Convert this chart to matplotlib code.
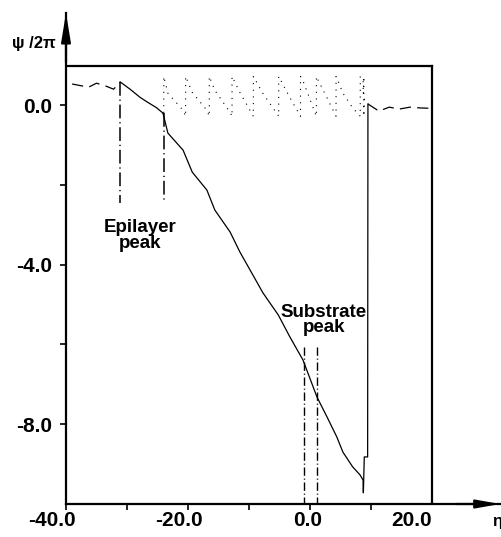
import numpy as np
import matplotlib
matplotlib.use("Agg")
import matplotlib.pyplot as plt

plt.rcParams['font.family'] = ['Liberation Sans', 'DejaVu Sans']
plt.rcParams['font.weight'] = 'bold'

# dashed phase outside the layer (left / right)
left_x = [-39.0, -36.3, -35.0, -33.5, -32.2, -31.1]
left_y = [0.53, 0.45, 0.55, 0.48, 0.40, 0.58]
right_x = [9.5, 9.8, 11.3, 13.0, 14.6, 16.4, 18.0, 20.0]
right_y = [0.03, 0.0, -0.15, -0.05, -0.10, -0.05, -0.07, -0.08]

# unwrapped phase psi/2pi (solid)
phase_x = [-31.1, -29.5, -27.9, -26.7, -25.2, -24.1, -23.3, -20.8, -19.3,
           -16.9, -15.6, -13.1, -11.5, -9.8, -7.7, -5.2, -3.3, -1.15, 1.15,
           2.8, 4.4, 5.4, 7.0, 8.2, 8.7, 8.75, 8.9, 9.45, 9.5]
phase_y = [0.58, 0.40, 0.20, 0.08, -0.06, -0.20, -0.70, -1.13, -1.68,
           -2.13, -2.63, -3.18, -3.68, -4.14, -4.71, -5.26, -5.81, -6.39, -7.32,
           -7.82, -8.32, -8.70, -9.07, -9.27, -9.40, -9.72, -8.82, -8.82, 0.03]

epi_peaks = [-31.1, -23.9]
sub_peaks = [-1.0, 1.1]

xticks = [-40, -20, 0, 20]
xlabels = ['-40.0', '-20.0', '0.0', '20.0']
yticks = [0, -4, -8]
ylabels = ['0.0', '-4.0', '-8.0']


def wrapped(x, y, lo, x_start, x_end):
    # same curve folded back into [lo, lo+1), vertical jumps kept
    xs, ys = [], []
    pts = [(a, b) for a, b in zip(x, y) if x_start <= a <= x_end]
    w = lambda v: lo + (v - lo) % 1.0
    for (x0, y0), (x1, y1) in zip(pts[:-1], pts[1:]):
        xs.append(x0)
        ys.append(w(y0))
        if y1 == y0:
            continue
        ks = np.arange(np.ceil(min(y0, y1) - lo), np.floor(max(y0, y1) - lo) + 1)
        bounds = lo + ks
        bounds = bounds[(bounds > min(y0, y1)) & (bounds < max(y0, y1))]
        bounds = sorted(bounds, reverse=y1 < y0)
        for b in bounds:
            xc = x0 + (b - y0) / (y1 - y0) * (x1 - x0)
            if y1 < y0:
                xs += [xc, xc]
                ys += [lo, lo + 1]
            else:
                xs += [xc, xc]
                ys += [lo + 1, lo]
    xs.append(pts[-1][0])
    ys.append(w(pts[-1][1]))
    return xs, ys


fig = plt.figure(figsize=(5.01, 5.37), dpi=100)
ax = fig.add_axes([66 / 501, 33 / 537, 434 / 501, 491 / 537])
ax.set_xlim(-40, 31.15)
ax.set_ylim(-10, 2.31)

for s in ['top', 'right']:
    ax.spines[s].set_visible(False)
for s in ['left', 'bottom']:
    ax.spines[s].set_linewidth(1.6)

# plot box
ax.plot([-40, 20], [0.97, 0.97], color='k', lw=1.6)
ax.plot([20, 20], [-10, 0.97], color='k', lw=1.6)

ax.plot(left_x, left_y, color='k', lw=0.9, linestyle=(0, (9, 5)))
ax.plot(right_x, right_y, color='k', lw=0.9, linestyle=(0, (9, 5)))
ax.plot(phase_x, phase_y, color='k', lw=0.9)

wx, wy = wrapped(phase_x, phase_y, -0.28, -24.1, 9.0)
ax.plot(wx, wy, color='k', lw=0.8, linestyle=(0, (1.0, 5.0)))

# peak markers
ax.plot([epi_peaks[0]] * 2, [0.58, -2.45], color='k', lw=1.1, linestyle=(0, (9, 2.5, 0.8, 2.5)))
ax.plot([epi_peaks[1]] * 2, [-0.2, -2.45], color='k', lw=1.1, linestyle=(0, (9, 2.5, 0.8, 2.5)))
for p in sub_peaks:
    ax.plot([p, p], [-6.07, -10], color='k', lw=1.0, linestyle=(0, (6, 2, 0.8, 2)))

ax.text(-27.9, -3.27, 'Epilayer\npeak', ha='center', va='center', fontsize=13.5,
        linespacing=0.9)
ax.text(2.3, -5.39, 'Substrate\npeak', ha='center', va='center', fontsize=13.5,
        linespacing=0.85)

# ticks
ax.set_xticks(range(-40, 20, 10))
ax.set_xticklabels([])
ax.tick_params(axis='x', direction='out', length=4, width=1.2)
ax.set_yticks(yticks)
ax.set_yticklabels(ylabels, fontsize=15)
ax.set_yticks([-2, -6], minor=True)
ax.tick_params(axis='y', which='both', direction='out', length=4, width=1.2, pad=6)

shifts = [-10, -6.5, -1.5, -15]
for v, lab, dx in zip(xticks, xlabels, shifts):
    ax.annotate(lab, xy=(v, -10), xytext=(dx, -12), textcoords='offset points',
                ha='center', va='center', fontsize=15, annotation_clip=False)

# axis arrows
ax.annotate('', xy=(0, 1), xytext=(0, 0.9), xycoords='axes fraction',
            arrowprops=dict(arrowstyle='-|>,head_length=1.7,head_width=0.28',
                            color='k', lw=1.6, shrinkA=0, shrinkB=0))
ax.annotate('', xy=(1, 0), xytext=(0.9, 0), xycoords='axes fraction',
            arrowprops=dict(arrowstyle='-|>,head_length=1.4,head_width=0.25',
                            color='k', lw=1.6, shrinkA=0, shrinkB=0))

ax.text(-48.9, 1.55, 'ψ /2π', ha='left', va='center', fontsize=12, clip_on=False)
ax.text(29.9, -10.45, 'η', ha='left', va='center', fontsize=12, clip_on=False)

fig.savefig('out.png', dpi=100)
